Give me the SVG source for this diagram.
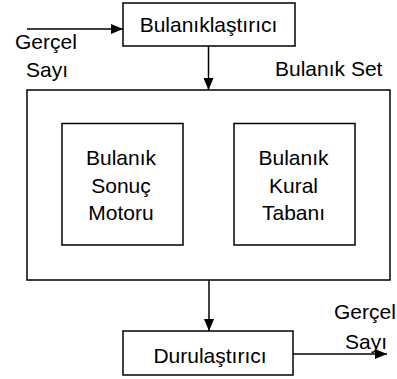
<svg xmlns="http://www.w3.org/2000/svg" width="397" height="379" viewBox="0 0 397 379">
<style>
rect{fill:#fff;stroke:#000;stroke-width:1.5}
text{font-family:"Liberation Sans",Arial,sans-serif;font-size:21px;fill:#000}
.c{text-anchor:middle}
.ln{stroke:#000;stroke-width:1.5;fill:none}
</style>
<defs>
<marker id="ah" viewBox="0 0 12 10" refX="12" refY="5" markerWidth="12" markerHeight="10" markerUnits="userSpaceOnUse" orient="auto-start-reverse"><path d="M0,0L12,5L0,10z" fill="#000"/></marker>
</defs>
<g id="connectors">
<line class="ln" x1="27" y1="29" x2="123" y2="29" marker-end="url(#ah)"/>
<line class="ln" x1="208.5" y1="46" x2="208.5" y2="90" marker-end="url(#ah)"/>
<line class="ln" x1="184" y1="186" x2="234" y2="186" marker-start="url(#ah)" marker-end="url(#ah)"/>
<line class="ln" x1="209" y1="280" x2="209" y2="331" marker-end="url(#ah)"/>
<line class="ln" x1="293" y1="354" x2="387" y2="354" marker-end="url(#ah)"/>
</g>
<g id="fuzzifier">
<rect x="123" y="3" width="172" height="43"/>
<text class="c" x="208.5" y="32">Bulanıklaştırıcı</text>
</g>
<g id="input-label">
<text x="15" y="49">Gerçel</text>
<text x="26" y="77">Sayı</text>
</g>
<g id="fuzzy-set">
<rect x="27" y="90" width="363" height="190"/>
<text x="275" y="76">Bulanık Set</text>
</g>
<g id="inference-engine">
<rect x="62" y="123.5" width="121" height="121.5"/>
<text class="c" x="121" y="165">Bulanık</text>
<text class="c" x="121" y="193">Sonuç</text>
<text class="c" x="121" y="220">Motoru</text>
</g>
<g id="rule-base">
<rect x="234" y="123.5" width="121" height="121.5"/>
<text class="c" x="293.5" y="165">Bulanık</text>
<text class="c" x="293.5" y="193">Kural</text>
<text class="c" x="293.5" y="220">Tabanı</text>
</g>
<g id="defuzzifier">
<rect x="123" y="331" width="170" height="44"/>
<text class="c" x="210" y="363">Durulaştırıcı</text>
</g>
<g id="output-label">
<text x="334" y="319">Gerçel</text>
<text x="345" y="349">Sayı</text>
</g>
</svg>
